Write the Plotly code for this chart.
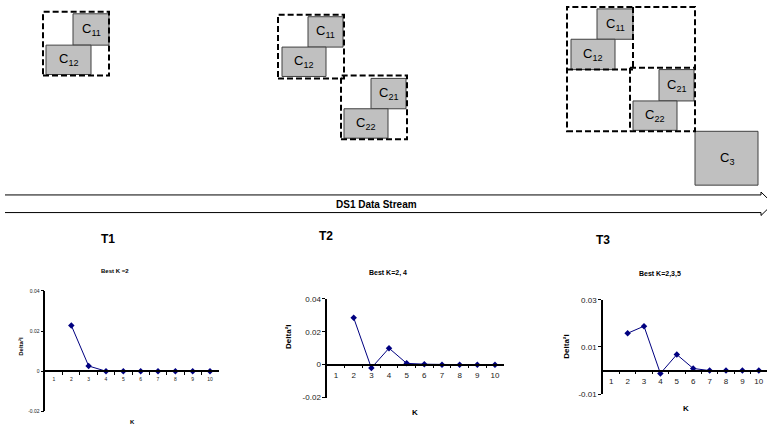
import plotly.graph_objects as go

W, H = 767, 433

# ---------------- data ----------------
k_values = [1, 2, 3, 4, 5, 6, 7, 8, 9, 10]
delta_t1 = [None, 0.0228, 0.0026, 0.0, 0.0, 0.0, 0.0, 0.0, 0.0, 0.0]
delta_t2 = [None, 0.0284, -0.0020, 0.0100, 0.0008, 0.0003, 0.0, 0.0, 0.0, 0.0]
delta_t3 = [None, 0.0158, 0.0188, -0.0012, 0.0068, 0.0009, 0.0, 0.0, 0.0, 0.0]

titles = ["Best K =2", "Best K=2, 4", "Best K=2,3,5"]
time_labels = ["T1", "T2", "T3"]
ytick_vals_t1 = [-0.02, 0, 0.02, 0.04]
ytick_text_t1 = ["-0.02", "0", "0.02", "0.04"]
ytick_vals_t2 = [-0.02, 0, 0.02, 0.04]
ytick_text_t2 = ["-0.02", "0", "0.02", "0.04"]
ytick_vals_t3 = [-0.01, 0.01, 0.03]
ytick_text_t3 = ["-0.01", "0.01", "0.03"]
xtick_text = ["1", "2", "3", "4", "5", "6", "7", "8", "9", "10"]
stream_label = "DS1 Data Stream"


def px(x):
    return x / W


def py(y):
    return 1 - y / H


NAVY = "#000080"
FONT = "Liberation Sans"
DASH = "6px,3px"

fig = go.Figure()

series = [delta_t1, delta_t2, delta_t3]
for i, s in enumerate(series):
    sfx = "" if i == 0 else str(i + 1)
    fig.add_trace(go.Scatter(
        x=k_values, y=s, mode="lines+markers",
        line=dict(color=NAVY, width=1),
        marker=dict(symbol="diamond", size=5, color=NAVY),
        xaxis="x" + sfx, yaxis="y" + sfx, showlegend=False,
        connectgaps=False, hoverinfo="skip",
    ))

# subplot geometry in pixels
geo = [
    (45.3, 218.7, 293, 416, [-0.02, 0.04], 375, 5, ytick_vals_t1, ytick_text_t1),
    (327.2, 503.8, 301, 402, [-0.02, 0.04], 368.3, 8, ytick_vals_t2, ytick_text_t2),
    (603, 768, 302, 398.5, [-0.01, 0.03], 374.4, 8, ytick_vals_t3, ytick_text_t3),
]

layout = dict(
    width=W, height=H, margin=dict(l=0, r=0, t=0, b=0),
    paper_bgcolor="white", plot_bgcolor="rgba(0,0,0,0)",
    font=dict(family=FONT, color="black"),
    showlegend=False,
)

for i, (x0, x1, yt, yb, yr, zy, fs, tv, tt) in enumerate(geo):
    sfx = "" if i == 0 else str(i + 1)
    layout["xaxis" + sfx] = dict(
        domain=[px(x0), min(px(x1), 1.0)], range=[0.5, 10.5],
        anchor="free", position=py(zy),
        showline=True, linecolor="black", linewidth=1.5,
        showgrid=False, zeroline=False,
        tickmode="array", tickvals=k_values, ticktext=xtick_text,
        ticks="outside", ticklen=3, tickcolor="rgba(0,0,0,0)",
        tickfont=dict(size=fs, color="#222", family=FONT),
        minor=dict(tickmode="array", tickvals=[v + 0.5 for v in k_values[:-1]],
                   ticks="outside", ticklen=3, tickcolor="black", tickwidth=1,
                   showgrid=False),
        fixedrange=True,
    )
    layout["yaxis" + sfx] = dict(
        domain=[py(yb), py(yt)], range=yr, anchor="x" + sfx,
        showline=True, linecolor="black", linewidth=1.5,
        showgrid=False, zeroline=False,
        tickmode="array", tickvals=tv, ticktext=tt,
        ticks="outside", ticklen=3, tickcolor="black",
        tickfont=dict(size=fs, color="#222", family=FONT),
        fixedrange=True,
    )

shapes = []
annotations = []


def dashed_box(x0, y0, x1, y1):
    shapes.append(dict(type="rect", xref="paper", yref="paper",
                       x0=px(x0), x1=px(x1), y0=py(y1), y1=py(y0),
                       line=dict(color="black", width=2, dash=DASH),
                       fillcolor="rgba(0,0,0,0)", layer="above"))


def dashed_line(x0, y0, x1, y1):
    shapes.append(dict(type="line", xref="paper", yref="paper",
                       x0=px(x0), x1=px(x1), y0=py(y0), y1=py(y1),
                       line=dict(color="black", width=2, dash=DASH),
                       layer="above"))


def cluster_box(x0, y0, x1, y1, label):
    shapes.append(dict(type="rect", xref="paper", yref="paper",
                       x0=px(x0), x1=px(x1), y0=py(y1), y1=py(y0),
                       line=dict(color="#404040", width=1),
                       fillcolor="#c0c0c0", layer="below"))
    annotations.append(dict(xref="paper", yref="paper",
                            x=px((x0 + x1) / 2), y=py((y0 + y1) / 2),
                            text=label, showarrow=False,
                            font=dict(size=13, family=FONT, color="black"),
                            xanchor="center", yanchor="middle"))


# group 1
cluster_box(73, 10, 109, 42, "C<sub>11</sub>")
cluster_box(46, 42, 91, 72, "C<sub>12</sub>")
dashed_box(43, 8, 109, 73)
# group 2
cluster_box(308, 13, 343, 44, "C<sub>11</sub>")
cluster_box(282, 44, 326, 74, "C<sub>12</sub>")
dashed_box(278, 11, 344, 76)
cluster_box(371, 76, 406, 107, "C<sub>21</sub>")
cluster_box(344, 107, 388, 137, "C<sub>22</sub>")
dashed_box(341, 73, 407, 138)
# group 3
cluster_box(597, 5, 633, 36, "C<sub>11</sub>")
cluster_box(571, 36, 615, 67, "C<sub>12</sub>")
cluster_box(659, 67, 694, 99, "C<sub>21</sub>")
cluster_box(633, 99, 677, 129, "C<sub>22</sub>")
cluster_box(695, 130, 758, 185, "C<sub>3</sub>")
dashed_box(567, 3, 695, 130)
dashed_line(633, 3, 633, 67)
dashed_line(567, 67, 633, 67)
dashed_line(630, 65, 695, 65)
dashed_line(630, 65, 630, 130)

# stream arrow
shapes.append(dict(type="path", xref="paper", yref="paper",
                   path=f"M {px(5)},{py(195)} L {px(761)},{py(195)} L {px(761)},{py(192)} L {px(767)},{py(198)}",
                   line=dict(color="black", width=1)))
shapes.append(dict(type="path", xref="paper", yref="paper",
                   path=f"M {px(5)},{py(213)} L {px(761)},{py(213)} L {px(761)},{py(216)} L {px(767)},{py(210)}",
                   line=dict(color="black", width=1)))
annotations.append(dict(xref="paper", yref="paper", x=px(376), y=py(205),
                        text=f"<b>{stream_label}</b>", showarrow=False,
                        font=dict(size=10, family=FONT), xanchor="center", yanchor="middle"))

# T labels
for lbl, (x, y) in zip(time_labels, [(108, 240), (326, 237), (603, 241)]):
    annotations.append(dict(xref="paper", yref="paper", x=px(x), y=py(y),
                            text=f"<b>{lbl}</b>", showarrow=False,
                            font=dict(size=12, family=FONT), xanchor="center", yanchor="middle"))

# chart titles
for t, (x, y, fs) in zip(titles, [(115, 273, 6), (388, 275, 7), (660, 276, 7)]):
    annotations.append(dict(xref="paper", yref="paper", x=px(x), y=py(y),
                            text=f"<b>{t}</b>", showarrow=False,
                            font=dict(size=fs, family=FONT), xanchor="center", yanchor="middle"))

# axis titles
for (x, y, fs) in [(132, 427, 6), (415, 417, 8), (686, 413, 8)]:
    annotations.append(dict(xref="paper", yref="paper", x=px(x), y=py(y),
                            text="<b>K</b>", showarrow=False,
                            font=dict(size=fs, family=FONT), xanchor="center", yanchor="middle"))
for (x, y, fs) in [(21, 350, 6), (289, 340, 8), (567, 350, 8)]:
    annotations.append(dict(xref="paper", yref="paper", x=px(x), y=py(y),
                            text="<b>Delta²I</b>", showarrow=False, textangle=-90,
                            font=dict(size=fs, family=FONT), xanchor="center", yanchor="middle"))

layout["shapes"] = shapes
layout["annotations"] = annotations
fig.update_layout(**layout)
fig.write_html("out.html")
